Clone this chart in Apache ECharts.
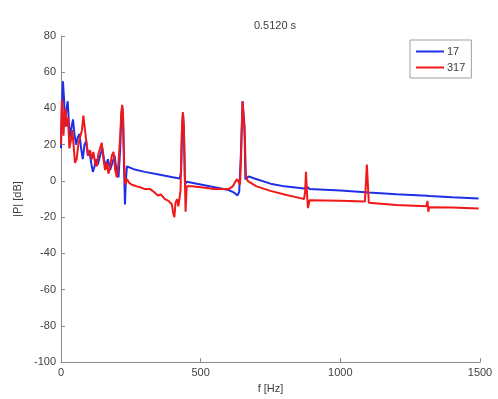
<!DOCTYPE html>
<html>
<head>
<meta charset="utf-8">
<script src="https://cdn.jsdelivr.net/npm/echarts@6/dist/echarts.min.js"></script>
<style>
  html, body { margin: 0; padding: 0; background: #fff; }
  #chart { width: 498px; height: 399px; }
</style>
</head>
<body>
<div id="chart"></div>
<script>
// Magnitude spectrum |P| in dB at t = 0.5120 s, two traces.
const titleText = '0.5120 s';
const seriesNames = ['17', '317'];
const yTicks = [-100, -80, -60, -40, -20, 0, 20, 40, 60, 80];
const xTicks = [0, 500, 1000, 1500];

// Trace "17": frequency [Hz] and level [dB]
const freq17 = [0, 3, 7, 11, 14, 18, 24, 29, 33, 38, 43, 48, 54, 60, 66, 72, 78, 84, 90, 96,
  102, 108, 114, 120, 126, 132, 140, 148, 154, 160, 168, 176, 184, 192, 200, 206, 212, 216, 219, 222,
  226, 229, 232, 236, 260, 300, 350, 400, 425, 430, 434, 437, 440, 444, 450, 500, 550, 600, 620, 632,
  638, 644, 650, 654, 657, 660, 665, 672, 690, 750, 800, 870, 880, 890, 1000, 1090, 1096, 1102, 1200, 1310,
  1320, 1400, 1495];
const level17 = [18, 40, 55, 45, 30, 38, 44, 30, 24, 30, 34, 26, 20, 24, 26, 18, 12, 20, 22, 14,
  16, 10, 5, 8, 12, 9, 14, 18, 12, 8, 12, 6, 10, 14, 4, 2, 18, 35, 41, 36,
  5, -13, 0, 8, 6.5, 5, 3.5, 2, 1.3, 5, 30, 37, 28, -2, -0.5, -2, -3.5, -5, -6.5, -8,
  -6, 15, 44, 45, 30, 1, 0, 2.5, 1.5, -1.5, -3, -4.2, -3.2, -4.4, -5.3, -6.2, -5.4, -6.4, -7.3, -8.2,
  -8.3, -9, -9.7];

// Trace "317": frequency [Hz] and level [dB]
const freq317 = [0, 3, 6, 9, 12, 16, 20, 25, 30, 35, 40, 45, 50, 56, 62, 68, 75, 80, 86, 92,
  98, 104, 110, 116, 122, 128, 134, 140, 146, 152, 158, 164, 170, 176, 182, 188, 194, 200, 206, 212,
  216, 219, 222, 226, 230, 236, 244, 252, 262, 272, 283, 292, 302, 319, 332, 347, 358, 372, 385, 397,
  402, 406, 410, 416, 420, 424, 428, 432, 436, 440, 443, 446, 450, 456, 470, 500, 550, 600, 615, 630,
  636, 641, 645, 650, 654, 658, 662, 668, 700, 750, 800, 856, 870, 874, 877, 880, 884, 890, 1000, 1088,
  1092, 1095, 1098, 1102, 1106, 1200, 1308, 1312, 1315, 1318, 1400, 1495];
const level317 = [20, 45, 38, 25, 35, 40, 30, 35, 18, 22, 28, 20, 10, 12, 20, 24, 28, 36, 28, 20,
  14, 17, 12, 16, 10, 8, 15, 18, 21, 12, 6, 10, 4, 8, 14, 16, 6, 2, 10, 25,
  38, 42, 37, 10, -2, 1, -1, -2, -2.5, -3, -3.5, -4, -4.5, -4.5, -6, -8, -7.5, -10, -11, -13,
  -18, -20, -12, -10, -14, -10, -5, 25, 38, 30, 5, -17, -3, -2.5, -3, -3.5, -4.5, -4.5, -3, 1,
  0.5, -2, 15, 44, 45, 25, 3, 0, -3, -5.5, -7.5, -9.5, -10, -6, 5, -5, -15, -10.7, -11, -11.3,
  0, 9, 0, -12, -12.5, -13.3, -14, -11, -17, -14.5, -14.6, -15.2];

const pairs = (xs, ys) => xs.map((x, i) => [x, ys[i]]);

const textColor = '#404040';
const axisColor = '#8c8c8c';
const font = 'Liberation Sans, Arial, sans-serif';

const chart = echarts.init(document.getElementById('chart'), null, { renderer: 'canvas' });
chart.setOption({
  animation: false,
  backgroundColor: '#ffffff',
  title: {
    text: titleText,
    left: 270, top: 15, textAlign: 'center',
    textStyle: { fontSize: 11, fontWeight: 'normal', color: textColor, fontFamily: font }
  },
  legend: {
    orient: 'vertical',
    left: 410, top: 40,
    width: 64,
    padding: [6, 6, 5, 6],
    itemGap: 5,
    itemWidth: 28, itemHeight: 2,
    icon: 'rect',
    borderColor: '#a0a0a0', borderWidth: 1,
    backgroundColor: '#fff',
    textStyle: { fontSize: 11, color: textColor, fontFamily: font, padding: [0, 0, 0, -2] },
    data: seriesNames
  },
  grid: { left: 61, right: 18, top: 36, bottom: 35 },
  xAxis: {
    type: 'value', min: xTicks[0], max: xTicks[xTicks.length - 1], interval: 500,
    name: 'f [Hz]', nameLocation: 'middle', nameGap: 19,
    nameTextStyle: { fontSize: 11, color: textColor, fontFamily: font },
    axisLine: { show: true, onZero: false, lineStyle: { color: axisColor, width: 1 } },
    axisTick: { show: true, inside: true, length: 4, lineStyle: { color: axisColor } },
    axisLabel: { fontSize: 11, color: textColor, fontFamily: font, margin: 5,
      formatter: v => String(v) },
    splitLine: { show: false }
  },
  yAxis: {
    type: 'value', min: yTicks[0], max: yTicks[yTicks.length - 1], interval: 20,
    name: '|P| [dB]', nameLocation: 'middle', nameGap: 37, nameRotate: 90,
    nameTextStyle: { fontSize: 11, color: textColor, fontFamily: font },
    axisLine: { show: true, onZero: false, lineStyle: { color: axisColor, width: 1 } },
    axisTick: { show: true, inside: true, length: 4, lineStyle: { color: axisColor } },
    axisLabel: { fontSize: 11, color: textColor, fontFamily: font, margin: 5,
      formatter: v => String(v) },
    splitLine: { show: false }
  },
  series: [
    {
      name: seriesNames[0], type: 'line', symbol: 'none',
      data: pairs(freq17, level17),
      lineStyle: { color: '#1f2fe8', width: 2 },
      itemStyle: { color: '#1f2fe8' }
    },
    {
      name: seriesNames[1], type: 'line', symbol: 'none',
      data: pairs(freq317, level317),
      lineStyle: { color: '#f01818', width: 2 },
      itemStyle: { color: '#f01818' }
    }
  ]
});
</script>
</body>
</html>
